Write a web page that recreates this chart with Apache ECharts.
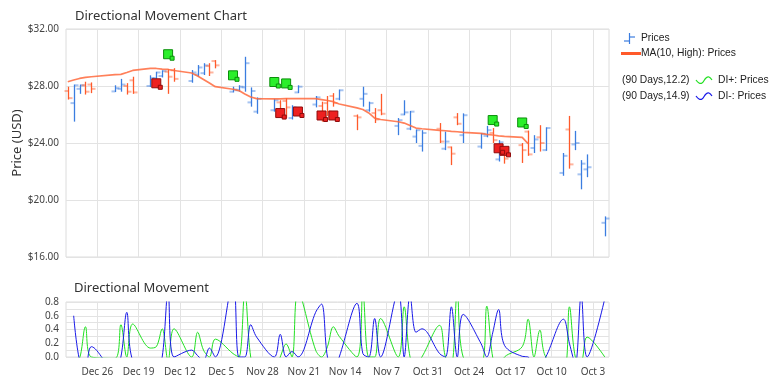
<!DOCTYPE html>
<html><head><meta charset="utf-8">
<script src="https://cdn.jsdelivr.net/npm/echarts@6/dist/echarts.min.js"></script>
<style>html,body{margin:0;padding:0;background:#fff}#c{width:779px;height:383px}</style>
</head><body><div id="c"></div>
<script>
// ---- data (newest first, as drawn left to right) ----
const dates = ['2010-12-31','2010-12-30','2010-12-29','2010-12-28','2010-12-27','2010-12-23','2010-12-22','2010-12-21','2010-12-20',
'2010-12-17','2010-12-16','2010-12-15','2010-12-14','2010-12-13','2010-12-10','2010-12-09','2010-12-08','2010-12-07','2010-12-06',
'2010-12-03','2010-12-02','2010-12-01','2010-11-30','2010-11-29','2010-11-26','2010-11-25','2010-11-24','2010-11-23','2010-11-22',
'2010-11-19','2010-11-18','2010-11-17','2010-11-16','2010-11-15','2010-11-12','2010-11-11','2010-11-10','2010-11-09','2010-11-08',
'2010-11-05','2010-11-04','2010-11-03','2010-11-02','2010-11-01','2010-10-29','2010-10-28','2010-10-27','2010-10-26','2010-10-25',
'2010-10-22','2010-10-21','2010-10-20','2010-10-19','2010-10-18','2010-10-15','2010-10-14','2010-10-13','2010-10-12','2010-10-11',
'2010-10-08','2010-10-07','2010-10-06','2010-10-05','2010-10-04','2010-10-01'];
const open  = [27.65,26.8,27.8,28.05,28.1,27.62,27.8,28.0,28.4, 28.0,28.55,28.7,29.0,29.1,28.35,28.8,28.9,29.4,29.75,
27.6,27.7,27.9,26.85,26.2,26.3,26.85,26.95,25.75,27.55, 26.7,26.6,26.8,27.3,27.1,25.9,27.1,26.3,26.1,26.3,
25.2,26.0,25.0,24.45,23.8,25.0,23.6,23.7,25.8,24.55, 23.75,24.5,24.7,22.85,23.4,23.85,24.8,23.65,24.4,23.5,
21.9,24.95,23.9,21.8,22.15,18.4];
const high  = [27.95,28.1,28.1,28.3,28.25,28.05,28.5,28.2,28.65, 28.75,29.0,29.1,29.2,29.25,29.12,29.47,29.6,29.6,29.82,
27.95,28.05,30.05,27.9,27.2,27.1,27.0,27.15,26.65,28.05, 27.3,26.9,27.3,27.5,27.75,26.0,27.95,26.9,26.45,27.45,
25.75,27.0,26.25,24.95,24.9,25.4,24.8,23.75,26.1,26.08, 24.7,25.2,25.05,24.2,23.5,24.0,24.87,24.55,25.25,25.1,
23.3,25.9,24.85,22.8,23.2,18.85];
const low   = [27.05,25.5,27.45,27.4,27.5,27.58,27.6,27.4,27.45, 27.93,28.5,28.6,27.45,28.3,28.23,28.65,28.77,28.7,29.24,
27.55,27.6,27.6,26.55,26.05,26.2,25.85,25.75,25.65,27.5, 26.5,25.5,25.9,26.55,27.0,24.9,26.55,26.2,25.4,25.95,
24.55,25.95,24.9,24.0,23.4,24.0,23.5,22.45,25.25,24.0, 23.6,24.4,24.0,22.7,22.55,22.6,23.1,23.3,23.4,23.45,
21.7,22.2,23.5,20.75,21.6,17.45];
const close = [27.15,28.05,28.05,27.6,27.8,27.85,28.1,27.6,27.55, 28.55,28.95,29.05,28.65,28.5,28.95,29.3,29.45,28.95,29.45,
27.75,27.95,29.6,27.65,27.1,27.0,26.3,26.5,26.5,27.95, 27.2,25.9,26.2,26.8,27.7,25.8,27.45,26.8,25.65,26.05,
25.6,26.15,26.2,24.9,24.7,24.1,24.1,23.25,25.35,25.95, 24.65,24.9,24.2,24.05,22.9,23.5,23.2,24.25,24.0,25.05,
23.1,22.5,24.0,22.55,22.3,18.7];
const maHigh = [28.30,28.42,28.53,28.60,28.65,28.80,28.82,28.95,29.09, 29.24,29.23,29.19,29.16,29.09,28.91,28.70,28.46,28.21,27.95,
27.77,27.68,27.44,27.23,27.11,27.09,27.09,27.12,27.12,27.12, 27.12,27.05,26.98,26.90,26.74,26.46,26.35,26.11,25.75,25.65,
25.49,25.40,25.23,25.05,25.00,24.89,24.86,24.82,24.79,24.75, 24.67,24.61,24.56,24.50,24.47,24.40,23.96,null,null,null,
null,null,null,null,null,null];
const diPlus = [null,-0.1,-0.02,0.44,0.0,-0.02,0.47,0.0,0.48, 0.13,0.15,0.41,-0.05,0.41,0.0,0.36,0.1,0.0,0.26,
0.05,0.0,0.95,0.0,-0.2,-0.2,0.0,0.19,0.0,0.95, 0.1,0.0,0.15,0.44,0.3,0.0,0.95,0.0,0.0,0.56,
0.0,0.73,0.0,-0.1,0.0,0.46,0.0,-0.1,0.95,0.0, -0.1,0.74,0.0,-0.2,0.0,0.15,0.55,0.0,0.39,0.0,
-0.2,0.73,0.0,-0.05,0.29,0.0];
const diMinus = [null,0.60,-0.05,-0.15,0.15,-0.2,0.0,0.65,-0.05, -0.3,-0.2,0.0,0.95,0.0,0.10,0.02,-0.05,0.13,0.0,
1.1,0.0,0.0,0.47,0.29,0.0,0.33,0.0,0.08,0.0, 0.65,0.77,0.0,-0.2,0.0,0.78,0.05,0.0,0.56,0.0,
0.95,0.0,0.9,0.36,0.41,0.05,0.0,0.73,0.0,0.62, 0.2,0.0,0.35,0.69,0.17,0.01,0.0,-0.1,-0.1,0.0,
0.55,0.2,-0.1,0.9,0.0,0.85];
const upSignalDates = ['2010-12-14','2010-12-03','2010-11-26','2010-11-24','2010-10-20','2010-10-15'];
const upSignalPrices = [30.23,28.75,28.28,28.18,25.61,25.44];
const downSignalDates = ['2010-12-16','2010-11-25','2010-11-22','2010-11-18','2010-11-16','2010-10-19','2010-10-18'];
const downSignalPrices = [28.19,26.1,26.21,25.93,25.93,23.63,23.45];
const tickDates = ['2010-10-03','2010-10-10','2010-10-17','2010-10-24','2010-10-31','2010-11-07','2010-11-14','2010-11-21','2010-11-28','2010-12-05','2010-12-12','2010-12-19','2010-12-26'];
const tickLabels = ['Oct 3','Oct 10','Oct 17','Oct 24','Oct 31','Nov 7','Nov 14','Nov 21','Nov 28','Dec 5','Dec 12','Dec 19','Dec 26'];
const priceTicks = [16,20,24,28,32];
const legendTexts = ['Prices','MA(10, High): Prices','(90 Days,12.2)','DI+: Prices','(90 Days,14.9)','DI-: Prices'];

// ---- helpers ----
const BASE = Date.UTC(2010,9,3);
const day = s => (Date.parse(s+'T00:00:00Z') - BASE) / 864e5;
const tickVals = tickDates.map(day);
const XMIN = day('2010-09-30') + 0.29, XMAX = day('2010-12-31') + 0.30;
const BLUE = '#3b7de0', ORANGE = '#ff5a2a';
const FONT = 'Noto Sans';
const LFONT = 'Liberation Sans';

const ohlc = dates.map((d,i)=>[day(d), open[i], high[i], low[i], close[i]]);
const maData = dates.map((d,i)=>[day(d), maHigh[i]]).filter(p=>p[1]!==null);
const dpData = dates.map((d,i)=>[day(d), diPlus[i]]).filter(p=>p[1]!==null);
const dmData = dates.map((d,i)=>[day(d), diMinus[i]]).filter(p=>p[1]!==null);
const upData = upSignalDates.map((d,i)=>[day(d), upSignalPrices[i]]);
const dnData = downSignalDates.map((d,i)=>[day(d), downSignalPrices[i]]);

const chart = echarts.init(document.getElementById('c'), null, {renderer:'canvas'});
const gridLine = {show:true, lineStyle:{color:'#e3e3e3', width:1}};
const xCommon = {type:'value', min:XMIN, max:XMAX, inverse:true, axisLine:{show:false},
  axisTick:{show:false, customValues:tickVals}, splitLine:gridLine};
const tickLabel = v => { const i = tickVals.indexOf(Math.round(v)); return i>=0 ? tickLabels[i] : ''; };

const option = {
  animation:false,
  grid:[
    {left:66, top:29, width:543, height:228, show:true, borderColor:'#dcdcdc', borderWidth:1},
    {left:66, top:302, width:543, height:55, show:true, borderColor:'#dcdcdc', borderWidth:1}
  ],
  xAxis:[
    Object.assign({gridIndex:0, axisLabel:{show:false, customValues:tickVals}}, xCommon),
    Object.assign({gridIndex:1, axisLabel:{show:true, customValues:tickVals, formatter:tickLabel, color:'#444', fontSize:10, fontFamily:FONT, margin:10}}, xCommon)
  ],
  yAxis:[
    {gridIndex:0, type:'value', min:priceTicks[0], max:priceTicks[priceTicks.length-1], interval:4,
     axisLine:{show:false}, axisTick:{show:false}, splitLine:gridLine,
     axisLabel:{formatter:v=>'$'+v.toFixed(2), color:'#444', fontSize:10, fontFamily:FONT, margin:7}},
    {gridIndex:1, type:'value', min:0, max:0.8, interval:0.1,
     axisLine:{show:false}, axisTick:{show:false}, splitLine:gridLine,
     axisLabel:{formatter:v=>{const k=Math.round(v*10); return k%2===0 ? (k/10).toFixed(1) : '';}, color:'#444', fontSize:10, fontFamily:FONT, margin:7}}
  ],
  series:[
    {type:'custom', name:'Prices', xAxisIndex:0, yAxisIndex:0, data:ohlc, encode:{x:0, y:[1,2,3,4]},
     renderItem:(params, api)=>{
       const x=api.value(0), o=api.value(1), h=api.value(2), l=api.value(3), c=api.value(4);
       const pH=api.coord([x,h]), pL=api.coord([x,l]), pO=api.coord([x,o]), pC=api.coord([x,c]);
       const col = c>=o ? BLUE : ORANGE;
       const X = Math.round(pH[0]) + 0.5;
       return {type:'group', children:[
         {type:'line', shape:{x1:X-4, y1:pO[1], x2:X, y2:pO[1]}, style:{stroke:col, lineWidth:2, opacity:0.45}},
         {type:'line', shape:{x1:X, y1:pC[1], x2:X+4, y2:pC[1]}, style:{stroke:col, lineWidth:2, opacity:0.45}},
         {type:'line', shape:{x1:X, y1:pH[1], x2:X, y2:pL[1]}, style:{stroke:col, lineWidth:1.3}}
       ]};
     }},
    {type:'line', name:'MA', xAxisIndex:0, yAxisIndex:0, data:maData, showSymbol:false, symbol:'none',
     lineStyle:{color:'#ff6a3d', width:1.7, opacity:0.85}},
    {type:'scatter', xAxisIndex:0, yAxisIndex:0, data:upData, symbol:'rect', symbolSize:9,
     itemStyle:{color:'#2bef2b', borderColor:'#0b8f0b', borderWidth:1, opacity:1}},
    {type:'scatter', xAxisIndex:0, yAxisIndex:0, data:upData, symbol:'rect', symbolSize:4, symbolOffset:[4,4],
     itemStyle:{color:'#2bef2b', borderColor:'#0b8f0b', borderWidth:1, opacity:1}},
    {type:'scatter', xAxisIndex:0, yAxisIndex:0, data:dnData, symbol:'rect', symbolSize:9,
     itemStyle:{color:'#ee2020', borderColor:'#8f0b0b', borderWidth:1, opacity:1}},
    {type:'scatter', xAxisIndex:0, yAxisIndex:0, data:dnData, symbol:'rect', symbolSize:4, symbolOffset:[4,4],
     itemStyle:{color:'#ee2020', borderColor:'#8f0b0b', borderWidth:1, opacity:1}},
    {type:'line', name:'DI+', xAxisIndex:1, yAxisIndex:1, data:dpData, smooth:0.35, showSymbol:false, symbol:'none', clip:true,
     lineStyle:{color:'#22e022', width:1}},
    {type:'line', name:'DI-', xAxisIndex:1, yAxisIndex:1, data:dmData, smooth:0.35, showSymbol:false, symbol:'none', clip:true,
     lineStyle:{color:'#1818e8', width:1}}
  ],
  graphic:[
    {type:'text', x:75, y:16, style:{text:'Directional Movement Chart', font:'13px "'+FONT+'"', fill:'#333', verticalAlign:'middle', textVerticalAlign:'middle'}},
    {type:'text', x:74, y:288, style:{text:'Directional Movement', font:'13px "'+FONT+'"', fill:'#333', verticalAlign:'middle', textVerticalAlign:'middle'}},
    {type:'text', x:17, y:143, rotation:Math.PI/2, style:{text:'Price (USD)', font:'13px "'+FONT+'"', fill:'#333', align:'center', textAlign:'center', verticalAlign:'middle', textVerticalAlign:'middle'}},
    // legend
    {type:'line', shape:{x1:629.5,y1:33,x2:629.5,y2:44}, style:{stroke:BLUE, lineWidth:1.2}},
    {type:'line', shape:{x1:624,y1:41,x2:629.5,y2:41}, style:{stroke:BLUE, lineWidth:1.2}},
    {type:'line', shape:{x1:629.5,y1:37,x2:635,y2:37}, style:{stroke:BLUE, lineWidth:1.2}},
    {type:'text', x:641, y:38, style:{text:legendTexts[0], font:'10.3px "'+LFONT+'"', fill:'#222', verticalAlign:'middle', textVerticalAlign:'middle'}},
    {type:'rect', shape:{x:621, y:52, width:20, height:3}, style:{fill:'#ff5a2a'}},
    {type:'text', x:641, y:53.5, style:{text:legendTexts[1], font:'10.3px "'+LFONT+'"', fill:'#222', verticalAlign:'middle', textVerticalAlign:'middle'}},
    {type:'text', x:622, y:80, style:{text:legendTexts[2], font:'10.3px "'+LFONT+'"', fill:'#222', verticalAlign:'middle', textVerticalAlign:'middle'}},
    {type:'polyline', shape:{points:[[696,80],[699,83],[702,83],[706,78],[709,77],[712,80]], smooth:0.4}, style:{stroke:'#22e022', lineWidth:1.2, fill:null}},
    {type:'text', x:718, y:80, style:{text:legendTexts[3], font:'10.3px "'+LFONT+'"', fill:'#222', verticalAlign:'middle', textVerticalAlign:'middle'}},
    {type:'text', x:622, y:96, style:{text:legendTexts[4], font:'10.3px "'+LFONT+'"', fill:'#222', verticalAlign:'middle', textVerticalAlign:'middle'}},
    {type:'polyline', shape:{points:[[696,96],[699,99],[702,99],[706,94],[709,93],[712,96]], smooth:0.4}, style:{stroke:'#1818e8', lineWidth:1.2, fill:null}},
    {type:'text', x:718, y:96, style:{text:legendTexts[5], font:'10.3px "'+LFONT+'"', fill:'#222', verticalAlign:'middle', textVerticalAlign:'middle'}}
  ]
};
chart.setOption(option);
</script>
</body></html>
